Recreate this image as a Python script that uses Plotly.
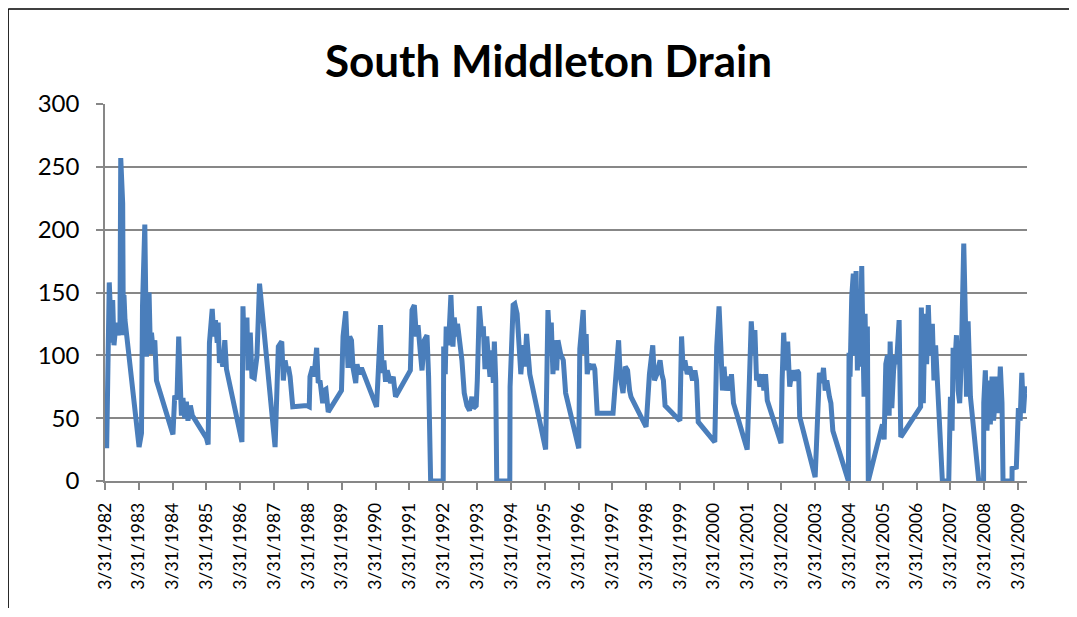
import plotly.graph_objects as go

# South Middleton Drain flow (irregular sampling)
dates = [
    "1982-04-18", "1982-04-25", "1982-05-16", "1982-06-11", "1982-06-22", "1982-07-06", "1982-07-28",
    "1982-08-22", "1982-09-09", "1982-09-17", "1982-10-08", "1982-10-15", "1982-10-22", "1982-11-02",
    "1983-04-03", "1983-04-29", "1983-05-10", "1983-06-04", "1983-06-22", "1983-07-20", "1983-08-04",
    "1983-08-15", "1983-09-01", "1983-09-20", "1983-10-08",
    "1984-04-03", "1984-04-22", "1984-05-16", "1984-06-04", "1984-07-03", "1984-07-20", "1984-08-08",
    "1984-08-26", "1984-09-12", "1984-10-08", "1984-10-30",
    "1985-03-31", "1985-04-18", "1985-05-02", "1985-06-01", "1985-06-18", "1985-07-06", "1985-07-25",
    "1985-08-04", "1985-08-18", "1985-09-06", "1985-09-23", "1985-10-15", "1985-11-02",
    "1986-04-18", "1986-04-29", "1986-05-13", "1986-06-11", "1986-06-22", "1986-07-17", "1986-08-04",
    "1986-08-29", "1986-09-27", "1986-10-25",
    "1987-04-11", "1987-04-29", "1987-05-16", "1987-06-22", "1987-07-09", "1987-07-28", "1987-08-15",
    "1987-09-01", "1987-09-20", "1987-10-19",
    "1988-03-17", "1988-04-14", "1988-04-22", "1988-05-21", "1988-06-04", "1988-07-03", "1988-07-20",
    "1988-08-08", "1988-09-06", "1988-09-20", "1988-10-11", "1988-11-05",
    "1989-03-28", "1989-04-14", "1989-05-13", "1989-06-07", "1989-06-25", "1989-07-14", "1989-07-31",
    "1989-08-29", "1989-09-12", "1989-10-04", "1989-10-30",
    "1990-04-11", "1990-04-25", "1990-05-24", "1990-06-11", "1990-06-29", "1990-07-17", "1990-08-04",
    "1990-09-09", "1990-10-08", "1990-11-02",
    "1991-04-11", "1991-04-29", "1991-05-24", "1991-06-15", "1991-07-03", "1991-07-28", "1991-08-15",
    "1991-09-09", "1991-10-08", "1991-10-25", "1991-11-16",
    "1992-03-31", "1992-04-05", "1992-04-22", "1992-05-02", "1992-05-27", "1992-06-22", "1992-07-14",
    "1992-07-28", "1992-08-18", "1992-09-01", "1992-09-23", "1992-10-19", "1992-11-13", "1992-12-12",
    "1993-01-09", "1993-02-04", "1993-02-21", "1993-03-22", "1993-04-03", "1993-04-25", "1993-05-21",
    "1993-06-07", "1993-06-25", "1993-07-14", "1993-07-31", "1993-08-18", "1993-09-06", "1993-09-23",
    "1993-10-04", "1993-10-19", "1993-10-30",
    "1994-03-20", "1994-03-23", "1994-04-08", "1994-04-25", "1994-05-13", "1994-06-07", "1994-06-29",
    "1994-07-17", "1994-08-11", "1994-08-29", "1994-09-17", "1994-10-04", "1994-10-22",
    "1995-04-11", "1995-04-22", "1995-05-06", "1995-05-27", "1995-06-11", "1995-06-29", "1995-07-17",
    "1995-08-08", "1995-08-22", "1995-09-20", "1995-10-19", "1995-11-13",
    "1996-04-03", "1996-04-14", "1996-05-21", "1996-06-04", "1996-06-22", "1996-07-03", "1996-07-20",
    "1996-08-15", "1996-09-06", "1996-09-23", "1996-10-19",
    "1997-04-08", "1997-05-02", "1997-06-07", "1997-06-25", "1997-07-25", "1997-08-18", "1997-09-12",
    "1997-10-04", "1997-10-19",
    "1998-03-31", "1998-05-06", "1998-06-11", "1998-06-29", "1998-07-25", "1998-08-29", "1998-09-17",
    "1998-10-04", "1998-10-22",
    "1999-03-31", "1999-04-18", "1999-05-06", "1999-05-24", "1999-06-18", "1999-07-17", "1999-08-15",
    "1999-09-09", "1999-09-27", "1999-10-15",
    "2000-04-11", "2000-05-02", "2000-05-27", "2000-06-15", "2000-07-03", "2000-07-20", "2000-08-08",
    "2000-09-01", "2000-09-23", "2000-10-08", "2000-10-30",
    "2001-03-27", "2001-04-14", "2001-05-10", "2001-06-01", "2001-06-18", "2001-07-06", "2001-07-25",
    "2001-08-11", "2001-09-06", "2001-09-23", "2001-10-11", "2001-10-30",
    "2002-03-27", "2002-04-08", "2002-04-25", "2002-05-13", "2002-06-07", "2002-06-29", "2002-07-25",
    "2002-08-18", "2002-09-17", "2002-10-04", "2002-10-15",
    "2003-03-31", "2003-04-18", "2003-05-16", "2003-06-11", "2003-06-29", "2003-07-17", "2003-08-04",
    "2003-09-01", "2003-09-17", "2003-10-08",
    "2004-03-24", "2004-03-31", "2004-04-11", "2004-04-29", "2004-05-16", "2004-05-27", "2004-06-15",
    "2004-06-29", "2004-07-14", "2004-07-28", "2004-08-15", "2004-08-26", "2004-09-09", "2004-09-20",
    "2004-10-01", "2004-10-15", "2004-10-25",
    "2005-03-09", "2005-03-27", "2005-04-14", "2005-05-02", "2005-05-21", "2005-06-07", "2005-06-18",
    "2005-07-06", "2005-07-25", "2005-08-11", "2005-08-26", "2005-09-23", "2005-10-11",
    "2006-05-13", "2006-05-21", "2006-06-11", "2006-06-29", "2006-07-17", "2006-08-04", "2006-08-22",
    "2006-09-17", "2006-10-04", "2006-10-22",
    "2007-01-03", "2007-03-13", "2007-03-31", "2007-04-18", "2007-04-29", "2007-05-13", "2007-06-04",
    "2007-06-22", "2007-07-09", "2007-07-25", "2007-08-22", "2007-09-09", "2007-09-20", "2007-10-08",
    "2007-11-02",
    "2008-01-31", "2008-03-23", "2008-03-25", "2008-04-11", "2008-04-29", "2008-05-16", "2008-06-04",
    "2008-06-22", "2008-07-09", "2008-07-28", "2008-08-15", "2008-09-01", "2008-09-20", "2008-10-08",
    "2008-10-19",
    "2009-01-24", "2009-01-25", "2009-03-12", "2009-03-19", "2009-04-03", "2009-04-22", "2009-05-10",
    "2009-05-27", "2009-06-15", "2009-07-03",
]

flow = [
    26, 67, 158, 110, 144, 108, 126,
    116, 126, 257, 221, 116, 148, 128,
    27, 38, 139, 204, 99, 150, 101,
    118, 104, 112, 80,
    37, 68, 65, 115, 52, 66, 50,
    63, 48, 60, 52,
    34, 29, 110, 137, 115, 128, 110,
    126, 94, 99, 91, 112, 89,
    31, 139, 104, 130, 88, 118, 83,
    82, 99, 157,
    27, 80, 107, 111, 80, 96, 88,
    91, 83, 59,
    60, 59, 83, 91, 83, 106, 78,
    80, 62, 72, 73, 55,
    72, 115, 135, 90, 115, 112, 90,
    78, 93, 85, 90,
    59, 88, 124, 86, 96, 79, 88,
    78, 83, 67,
    88, 136, 140, 115, 124, 102, 88,
    112, 116, 83, 0,
    0, 107, 85, 123, 108, 148, 107,
    130, 115, 125, 112, 96, 70, 60,
    56, 67, 58, 60, 80, 139, 115,
    123, 89, 115, 99, 83, 104, 78,
    111, 80, 0,
    0, 75, 101, 140, 141, 133, 107,
    85, 108, 91, 117, 96, 85,
    25, 107, 136, 107, 126, 85, 112,
    88, 112, 101, 96, 70,
    26, 105, 136, 101, 117, 85, 93,
    89, 93, 89, 54,
    54, 80, 112, 83, 70, 91, 88,
    72, 67,
    43, 85, 108, 80, 85, 96, 85,
    80, 60,
    48, 115, 88, 96, 85, 91, 80,
    88, 80, 47,
    31, 107, 139, 107, 72, 91, 72,
    83, 72, 85, 62,
    25, 80, 127, 101, 120, 80, 85,
    75, 85, 72, 85, 64,
    30, 80, 118, 88, 111, 75, 88,
    80, 88, 86, 51,
    3, 40, 86, 78, 90, 72, 80,
    67, 62, 40,
    0, 102, 83, 147, 165, 100, 167,
    88, 133, 91, 171, 120, 67, 133,
    88, 123, 0,
    40, 45, 33, 93, 100, 52, 111,
    58, 88, 100, 93, 128, 35,
    59, 138, 62, 133, 93, 140, 100,
    125, 80, 108,
    0, 0, 67, 40, 106, 86, 116,
    72, 62, 93, 189, 128, 67, 127,
    67,
    0, 0, 62, 88, 40, 80, 45,
    83, 48, 67, 83, 54, 91, 62,
    0,
    0, 10, 11, 40, 58, 48, 86,
    54, 75, 70,
]

tick_years = list(range(1982, 2010))
tick_dates = [f"{y}-03-31" for y in tick_years]
tick_labels = [f"3/31/{y}" for y in tick_years]

axis_grey = "#878787"

fig = go.Figure()
fig.add_trace(go.Scatter(
    x=dates,
    y=flow,
    mode="lines",
    line=dict(color="#4A7EBB", width=5),
    cliponaxis=False,
    showlegend=False,
))

frame = dict(color="black", width=1.3)

# the page body adds an 8px offset, so the figure is a bit smaller to fit the window
fig.update_layout(
    width=1069,
    height=600,
    paper_bgcolor="white",
    plot_bgcolor="white",
    margin=dict(l=97, r=50, t=96, b=127),
    font=dict(family="Lato, 'Open Sans', sans-serif", color="black"),
    title=dict(
        text="<b>South Middleton Drain</b>",
        x=0.5056, xref="container", xanchor="center",
        y=0.91, yref="container", yanchor="middle",
        font=dict(size=44, color="black"),
    ),
    shapes=[
        # chart-area frame: only its top and left edges are in view
        dict(type="line", xref="paper", yref="paper",
             x0=-0.105, x1=1.2, y0=1.252, y1=1.252, line=frame, layer="below"),
        dict(type="line", xref="paper", yref="paper",
             x0=-0.105, x1=-0.105, y0=-0.5, y1=1.252, line=frame, layer="below"),
    ],
)

fig.update_xaxes(
    type="date",
    range=["1982-03-31", "2009-07-05"],
    tickmode="array",
    tickvals=tick_dates,
    ticktext=tick_labels,
    tickangle=-90,
    tickfont=dict(size=17.5),
    ticklabelstandoff=6,
    showgrid=False,
    showline=True,
    linecolor=axis_grey,
    linewidth=1.5,
    ticks="outside",
    ticklen=7,
    tickwidth=1.5,
    tickcolor=axis_grey,
    zeroline=False,
    automargin=False,
    layer="below traces",
)

fig.update_yaxes(
    range=[0, 300],
    tickmode="array",
    tickvals=[0, 50, 100, 150, 200, 250, 300],
    tickfont=dict(size=24),
    showgrid=True,
    gridcolor=axis_grey,
    gridwidth=1.5,
    showline=True,
    linecolor=axis_grey,
    linewidth=1.5,
    ticks="outside",
    ticklen=7,
    tickwidth=1.5,
    tickcolor=axis_grey,
    ticklabelstandoff=12,
    zeroline=False,
    automargin=False,
    layer="below traces",
)

fig.write_html("out.html")
